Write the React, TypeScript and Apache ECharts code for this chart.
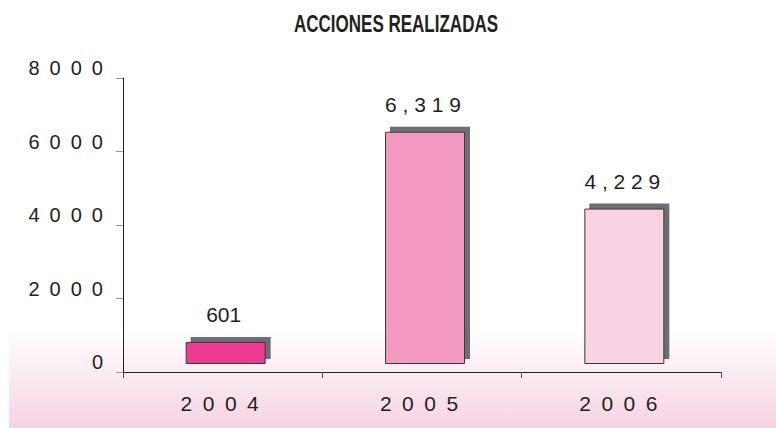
import React, { useEffect, useRef } from "react";
import * as echarts from "echarts";

const categories = ["2004", "2005", "2006"];
const values = [601, 6319, 4229];
const valueLabels = ["601", "6 , 3 1 9", "4 , 2 2 9"];
const barColors = ["#EC3A91", "#F49AC2", "#F9D3E4"];
const yTicks = [0, 2000, 4000, 6000, 8000];
const titleText = "ACCIONES REALIZADAS";

const FONT = "'Liberation Sans', Arial, sans-serif";
const NB = "\u00a0";
const EN = "\u2002";
const spaced = (s: string, gap: string) => s.split("").join(gap);

export default function App() {
  const ref = useRef<HTMLDivElement>(null);
  useEffect(() => {
    if (!ref.current) return;
    const chart = echarts.init(ref.current, undefined, { renderer: "svg" });
    chart.setOption({
      animation: false,
      backgroundColor: "#ffffff",
      graphic: [
        {
          type: "rect",
          z: -10,
          silent: true,
          shape: { x: 9, y: 328, width: 767, height: 100 },
          style: {
            fill: new echarts.graphic.LinearGradient(0, 0, 0, 1, [
              { offset: 0, color: "#ffffff" },
              { offset: 1, color: "#F7D3E3" },
            ]),
          },
        },
        {
          type: "text",
          x: 396,
          y: 13,
          scaleX: 0.74,
          style: {
            text: titleText,
            textAlign: "center",
            textVerticalAlign: "top",
            fontFamily: FONT,
            fontWeight: "bold",
            fontSize: 23,
            fill: "#231F20",
          },
        },
      ],
      grid: { left: 123, right: 55, top: 78, bottom: 56 },
      xAxis: {
        type: "category",
        data: categories,
        boundaryGap: true,
        axisLine: { lineStyle: { color: "#231F20", width: 1 } },
        axisTick: { show: true, length: 6, lineStyle: { color: "#555" } },
        axisLabel: {
          margin: 21,
          fontFamily: FONT,
          fontSize: 21,
          color: "#231F20",
          padding: [0, 6, 0, 0],
          formatter: (v: string) => spaced(v, EN),
        },
      },
      yAxis: {
        type: "value",
        min: 0,
        max: 8000,
        interval: 2000,
        splitLine: { show: false },
        axisLine: { show: true, lineStyle: { color: "#231F20", width: 1 } },
        axisTick: { show: true, length: 7, lineStyle: { color: "#999" } },
        axisLabel: {
          margin: 20,
          fontFamily: FONT,
          fontSize: 20,
          color: "#231F20",
          verticalAlign: "bottom",
          formatter: (v: number) => (yTicks.includes(v) ? spaced(String(v), EN) : ""),
        },
      },
      series: [
        {
          type: "custom",
          data: values.map((v, i) => [i, v]),
          renderItem: (params: any, api: any) => {
            const idx = api.value(0);
            const v = api.value(1);
            const top = api.coord([idx, v]);
            const base = api.coord([idx, 0]);
            const bw = 80;
            const dx = 3;
            const dy = -8;
            const x = top[0] - bw / 2 + dx;
            const y = top[1] + dy;
            const h = base[1] - top[1];
            return {
              type: "group",
              children: [
                {
                  type: "rect",
                  shape: { x: x + 5, y: y - 5, width: bw, height: h },
                  style: { fill: "#6D6E71" },
                },
                {
                  type: "rect",
                  shape: { x: x + 0.5, y: y + 0.5, width: bw - 1, height: h - 1 },
                  style: { fill: barColors[params.dataIndex], stroke: "#3a3a3a", lineWidth: 1 },
                },
                {
                  type: "text",
                  x: top[0] + 1,
                  y: y - 17,
                  style: {
                    text: valueLabels[params.dataIndex].split(" ").join(NB),
                    textAlign: "center",
                    textVerticalAlign: "bottom",
                    fontFamily: FONT,
                    fontSize: 21,
                    fill: "#231F20",
                  },
                },
              ],
            };
          },
        },
      ],
    });
    return () => chart.dispose();
  }, []);
  return (
    <div
      ref={ref}
      style={{ position: "absolute", left: 0, top: 0, width: 776, height: 428 }}
    />
  );
}
